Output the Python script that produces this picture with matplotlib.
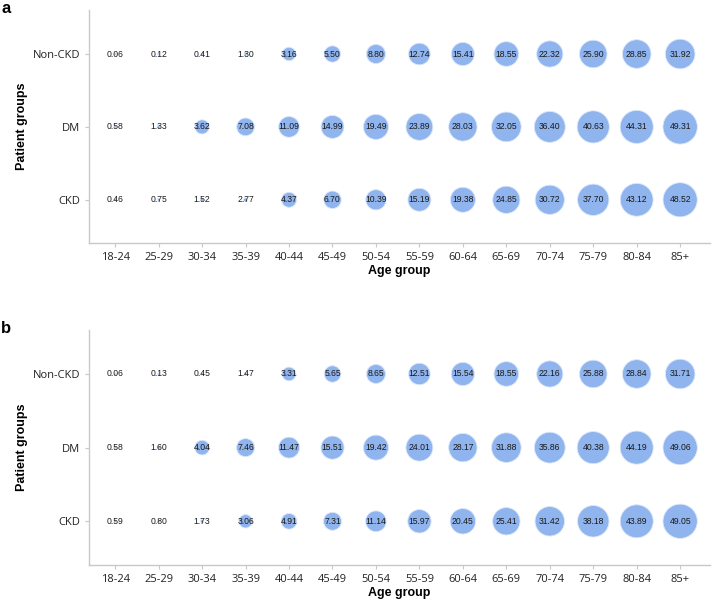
import numpy as np
import matplotlib
matplotlib.use("Agg")
import matplotlib.pyplot as plt

age_groups = ["18-24", "25-29", "30-34", "35-39", "40-44", "45-49", "50-54",
              "55-59", "60-64", "65-69", "70-74", "75-79", "80-84", "85+"]
patient_groups = ["CKD", "DM", "Non-CKD"]

# panel a
a_ckd = [0.46, 0.75, 1.52, 2.77, 4.37, 6.70, 10.39, 15.19, 19.38, 24.85, 30.72, 37.70, 43.12, 48.52]
a_dm = [0.58, 1.33, 3.62, 7.08, 11.09, 14.99, 19.49, 23.89, 28.03, 32.05, 36.40, 40.63, 44.31, 49.31]
a_non = [0.06, 0.12, 0.41, 1.30, 3.16, 5.50, 8.80, 12.74, 15.41, 18.55, 22.32, 25.90, 28.85, 31.92]

# panel b
b_ckd = [0.59, 0.80, 1.73, 3.06, 4.91, 7.31, 11.14, 15.97, 20.45, 25.41, 31.42, 38.18, 43.89, 49.05]
b_dm = [0.58, 1.60, 4.04, 7.46, 11.47, 15.51, 19.42, 24.01, 28.17, 31.88, 35.86, 40.38, 44.19, 49.06]
b_non = [0.06, 0.13, 0.45, 1.47, 3.31, 5.65, 8.65, 12.51, 15.54, 18.55, 22.16, 25.88, 28.84, 31.71]

bubble = "#8fb4ee"
spine_col = "#c8c8c8"

fig = plt.figure(figsize=(7.13, 6.04), dpi=100)
ax_a = fig.add_axes([0.125, 0.598, 0.871, 0.385])
ax_b = fig.add_axes([0.125, 0.065, 0.871, 0.389])


def diam_px(v):
    # bubble diameter in pixels, roughly as the original tool scales them
    v = np.asarray(v, dtype=float)
    big = 13.5 * (np.maximum(v, 3.0) / 3.16) ** 0.34
    small = 2.0 + 0.7 * v
    return np.where(v >= 3.0, big, small)


def draw_panel(ax, rows):
    x = np.arange(len(age_groups))
    for yi, vals in enumerate(rows):
        vals = np.array(vals)
        s = (diam_px(vals) * 0.72) ** 2
        ax.scatter(x, np.full(len(x), yi), s=s, color=bubble,
                   edgecolor="#dce8fb", linewidth=0.6, zorder=2)
        for xi, v in zip(x, vals):
            ax.text(xi, yi, "%.2f" % v, ha="center", va="center",
                    fontsize=6.2, family="Liberation Sans", color="#1a1a1a", zorder=3)
    ax.set_xlim(-0.6, 13.69)
    ax.set_ylim(-0.59, 2.6)
    ax.set_xticks(x)
    ax.set_xticklabels(age_groups, family="Open Sans")
    ax.set_yticks(range(len(patient_groups)))
    ax.set_yticklabels(patient_groups, family="Open Sans")
    for s in ["top", "right"]:
        ax.spines[s].set_visible(False)
    for s in ["left", "bottom"]:
        ax.spines[s].set_color(spine_col)
        ax.spines[s].set_linewidth(1.0)
    ax.tick_params(axis="both", colors=spine_col, labelcolor="#222222",
                   labelsize=8, length=3, width=0.8)
    ax.set_xlabel("Age group", fontsize=9, fontweight="bold",
                  family="Liberation Sans", labelpad=1.5)
    ax.set_ylabel("Patient groups", fontsize=9, fontweight="bold",
                  family="Liberation Sans", labelpad=3.5)


draw_panel(ax_a, [a_ckd, a_dm, a_non])
draw_panel(ax_b, [b_ckd, b_dm, b_non])

fig.text(0.002, 0.998, "a", fontsize=12, fontweight="bold", va="top", family="Liberation Sans")
fig.text(0.002, 0.468, "b", fontsize=12, fontweight="bold", va="top", family="Liberation Sans")

fig.savefig("out.png", dpi=100)
